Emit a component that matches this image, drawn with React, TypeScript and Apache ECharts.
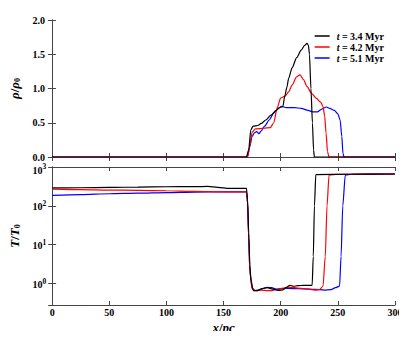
import React, { useEffect, useRef } from "react";
import * as echarts from "echarts";

const seriesNames = ["t = 3.4 Myr", "t = 4.2 Myr", "t = 5.1 Myr"];
const seriesColors = ["#000000", "#ff0000", "#0000ff"];
const xTicks = [0, 50, 100, 150, 200, 250, 300];

// density rho/rho0 : [x (pc), value]
const rhoBlack = [
  [0, 0], [170, 0], [172, 0.1], [174, 0.4], [176, 0.45], [180, 0.46], [183, 0.49], [187, 0.54],
  [191.5, 0.61], [196, 0.68], [199, 0.72], [202, 0.74], [203.5, 0.88], [205.5, 1.02], [207, 1.15],
  [210, 1.3], [214, 1.45], [218, 1.56], [221, 1.63], [223, 1.66], [224.3, 1.63], [225.2, 1.5],
  [226.5, 1.0], [227.8, 0.5], [228.8, 0.1], [229.5, 0], [300, 0],
];
const rhoRed = [
  [0, 0], [171, 0], [173, 0.15], [175, 0.36], [178, 0.41], [185, 0.42], [191, 0.43], [194, 0.5],
  [197, 0.72], [200, 0.86], [204, 0.89], [207, 0.95], [210, 1.05], [214, 1.17], [217, 1.2],
  [220, 1.13], [223, 1.03], [227, 0.93], [231, 0.86], [235, 0.8], [237, 0.74], [238.5, 0.6],
  [239.7, 0.35], [241, 0.08], [242.3, 0], [300, 0],
];
const rhoBlue = [
  [0, 0], [171, 0], [173, 0.15], [175, 0.3], [177, 0.35], [179, 0.37], [181, 0.34], [183, 0.38],
  [186, 0.45], [190, 0.54], [194, 0.64], [198, 0.71], [201, 0.74], [205, 0.72], [212, 0.72],
  [218, 0.71], [224, 0.68], [228, 0.66], [232, 0.66], [236, 0.7], [240, 0.73], [243, 0.71],
  [247, 0.68], [250, 0.63], [252, 0.54], [253.5, 0.3], [254.5, 0.05], [255.5, 0], [300, 0],
];

// temperature T/T0 : [x (pc), value]
const tempBlack = [
  [0, 290], [25, 292], [50, 298], [75, 305], [100, 310], [125, 312], [136, 316], [145, 300],
  [155, 282], [170, 282], [171, 150], [172, 20], [173, 3], [174, 1.2], [176, 0.66], [180, 0.66],
  [184, 0.74], [188, 0.78], [193, 0.72], [198, 0.67], [202, 0.69], [205, 0.8], [208, 0.9],
  [211, 0.85], [215, 0.88], [220, 0.9], [227.5, 0.9], [228.5, 5], [229.5, 100], [230.7, 640],
  [260, 650], [300, 660],
];
const tempRed = [
  [0, 270], [25, 262], [50, 255], [75, 250], [100, 245], [125, 235], [150, 228], [170, 228],
  [171, 120], [172, 15], [173, 2], [175, 0.75], [178, 0.66], [183, 0.68], [188, 0.66], [192, 0.66],
  [197, 0.7], [202, 0.76], [207, 0.8], [212, 0.78], [218, 0.75], [224, 0.72], [230, 0.68],
  [234, 0.7], [237, 0.85], [239, 5], [240.5, 100], [242.3, 620], [250, 650], [300, 660],
];
const tempBlue = [
  [0, 185], [25, 195], [50, 205], [75, 212], [100, 220], [125, 226], [150, 228], [170, 228],
  [171, 120], [172, 15], [173, 2], [175, 0.75], [177, 0.66], [180, 0.68], [184, 0.74], [188, 0.8],
  [192, 0.78], [196, 0.72], [200, 0.74], [205, 0.75], [210, 0.74], [220, 0.73], [230, 0.71],
  [238, 0.68], [244, 0.7], [248, 0.78], [251.5, 0.86], [252.8, 5], [254.3, 100], [256.5, 620],
  [262, 650], [300, 660],
];

const rhoSeries = [rhoBlack, rhoRed, rhoBlue];
const tempSeries = [tempBlack, tempRed, tempBlue];

const FONT = "'Liberation Serif', 'DejaVu Serif', serif";
const AX = "#444";

export default function App() {
  const ref = useRef<HTMLDivElement>(null);
  useEffect(() => {
    if (!ref.current) return;
    const chart = echarts.init(ref.current, null, { renderer: "svg" });
    const axisLineStyle = { show: true, lineStyle: { color: AX, width: 1 } };
    const tickIn = { show: true, inside: true, length: 4, lineStyle: { color: AX } };
    const baseX = {
      type: "value",
      min: 0,
      max: 300,
      interval: 50,
      axisLine: axisLineStyle,
      axisTick: tickIn,
      splitLine: { show: false },
    };
    const nameRich = {
      i: { fontFamily: FONT, fontStyle: "italic", fontWeight: "bold", fontSize: 13, color: "#000" },
      n: { fontFamily: FONT, fontWeight: "bold", fontSize: 13, color: "#000" },
      s: { fontFamily: FONT, fontWeight: "bold", fontSize: 8, color: "#000", padding: [6, 0, 0, 0] },
    };
    const lab = { fontFamily: FONT, fontWeight: "bold", color: "#000" };
    const option: any = {
      animation: false,
      backgroundColor: "#ffffff",
      textStyle: { fontFamily: FONT },
      grid: [
        { left: 49, right: 12, top: 20, height: 137 },
        { left: 49, right: 12, top: 167, height: 138 },
      ],
      legend: {
        data: seriesNames,
        orient: "vertical",
        right: 18,
        top: 26,
        icon: "rect",
        itemWidth: 15,
        itemHeight: 1.5,
        itemGap: 1,
        textStyle: {
          fontFamily: FONT,
          fontSize: 10,
          fontWeight: "bold",
          color: "#000",
          lineHeight: 10,
          padding: [0, 0, 0, 2],
          rich: {
            i: { fontStyle: "italic", fontFamily: FONT, fontSize: 10, fontWeight: "bold", lineHeight: 10 },
          },
        },
        formatter: (n: string) => "{i|t}" + n.slice(1),
      },
      xAxis: [
        { ...baseX, gridIndex: 0, position: "bottom", axisLabel: { show: false } },
        { ...baseX, gridIndex: 0, position: "top", axisLabel: { show: false } },
        {
          ...baseX,
          gridIndex: 1,
          position: "bottom",
          axisLabel: {
            show: true,
            margin: 2,
            ...lab,
            fontSize: 10,
            formatter: (v: number) => (xTicks.includes(v) ? String(v) : ""),
          },
          name: "{i|x}{n|/}{i|pc}",
          nameLocation: "middle",
          nameGap: 16,
          nameTextStyle: {
            rich: {
              i: { fontFamily: FONT, fontStyle: "italic", fontWeight: "bold", fontSize: 13, color: "#000" },
              n: { fontFamily: FONT, fontWeight: "bold", fontSize: 13, color: "#000" },
            },
          },
        },
        { ...baseX, gridIndex: 1, position: "top", axisLabel: { show: false } },
      ],
      yAxis: [
        {
          type: "value",
          gridIndex: 0,
          min: 0,
          max: 2,
          interval: 0.5,
          position: "left",
          axisLine: axisLineStyle,
          axisTick: tickIn,
          splitLine: { show: false },
          axisLabel: {
            margin: 7,
            ...lab,
            fontSize: 10,
            lineHeight: 8,
            formatter: (v: number) => v.toFixed(1),
          },
          name: "{i|ρ}{n|/}{i|ρ}{s|0}",
          nameLocation: "middle",
          nameGap: 24,
          nameTextStyle: { rich: nameRich },
        },
        {
          type: "value",
          gridIndex: 0,
          min: 0,
          max: 2,
          interval: 0.5,
          position: "right",
          axisLine: axisLineStyle,
          axisTick: tickIn,
          splitLine: { show: false },
          axisLabel: { show: false },
        },
        {
          type: "log",
          logBase: 10,
          gridIndex: 1,
          min: 0.28,
          max: 1000,
          position: "left",
          axisLine: axisLineStyle,
          axisTick: tickIn,
          splitLine: { show: false },
          axisLabel: {
            margin: 6,
            ...lab,
            fontSize: 10,
            formatter: (v: number) => {
              const l = Math.log10(v);
              const e = Math.round(l);
              if (Math.abs(l - e) > 1e-6) return "";
              if (e === 3) return "{b3|10}{p3|" + e + "}";
              return "{b|10}{p|" + e + "}";
            },
            rich: {
              b: { ...lab, fontSize: 10, lineHeight: 8, padding: [2, 0, 0, 0] },
              p: { ...lab, fontSize: 7.5, lineHeight: 6, padding: [0, 0, 4, 0] },
              b3: { ...lab, fontSize: 10, lineHeight: 8, padding: [6, 0, 0, 0] },
              p3: { ...lab, fontSize: 7.5, lineHeight: 6, padding: [3, 0, 5, 0] },
            },
          },
          name: "{i|T}{n|/}{i|T}{s|0}",
          nameLocation: "middle",
          nameGap: 24,
          nameTextStyle: { rich: nameRich },
        },
        {
          type: "log",
          logBase: 10,
          gridIndex: 1,
          min: 0.28,
          max: 1000,
          position: "right",
          axisLine: axisLineStyle,
          axisTick: tickIn,
          splitLine: { show: false },
          axisLabel: { show: false },
        },
      ],
      series: [
        ...rhoSeries.map((d, i) => ({
          name: seriesNames[i],
          type: "line",
          xAxisIndex: 0,
          yAxisIndex: 0,
          data: d,
          showSymbol: false,
          smooth: 0.25,
          smoothMonotone: "x",
          lineStyle: { color: seriesColors[i], width: 1.2 },
          itemStyle: { color: seriesColors[i] },
          z: 3 - i,
        })),
        ...tempSeries.map((d, i) => ({
          name: seriesNames[i],
          type: "line",
          xAxisIndex: 2,
          yAxisIndex: 2,
          data: d,
          showSymbol: false,
          smooth: 0.25,
          smoothMonotone: "x",
          lineStyle: { color: seriesColors[i], width: 1.2 },
          itemStyle: { color: seriesColors[i] },
          z: 3 - i,
        })),
      ],
    };
    chart.setOption(option);
    return () => chart.dispose();
  }, []);
  return <div ref={ref} style={{ width: 407, height: 339, margin: -8 }} />;
}
